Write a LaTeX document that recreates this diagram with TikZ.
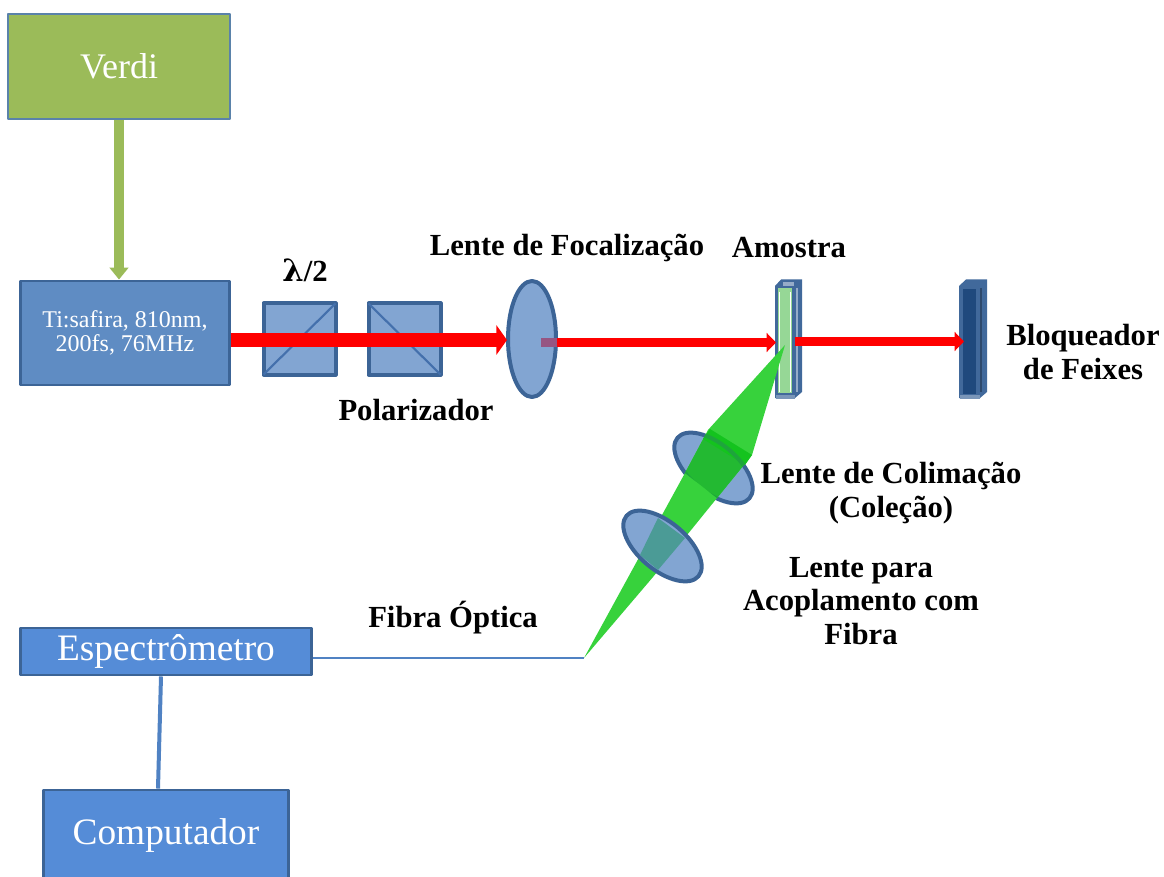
\documentclass[tikz,border=0pt]{standalone}
\usepackage{fontspec}
\setmainfont{Liberation Serif}
\newfontfamily\symfont{DejaVu Serif}
\usetikzlibrary{arrows.meta,calc}
\definecolor{lensfill}{RGB}{130,165,210}
\definecolor{lensedge}{RGB}{60,100,150}
\definecolor{boxblue}{RGB}{85,140,215}
\definecolor{tifill}{RGB}{95,140,195}
\definecolor{verdi}{RGB}{155,187,89}
\definecolor{verdiedge}{RGB}{90,130,170}
\definecolor{beamgreen}{RGB}{55,210,60}
\definecolor{dkgreen}{RGB}{35,185,50}
\definecolor{bandgreen}{RGB}{20,195,30}
\definecolor{rimgreen}{RGB}{30,165,60}
\definecolor{tealmix}{RGB}{75,155,150}
\definecolor{purplemix}{RGB}{150,85,130}
\definecolor{samplegreen}{RGB}{150,215,150}
\definecolor{dkblue}{RGB}{31,73,125}
\definecolor{midblue}{RGB}{65,105,155}
\definecolor{linkblue}{RGB}{80,130,195}
\tikzset{
  lbl/.style={font=\bfseries\fontsize{23}{25}\selectfont,text=black,align=center,inner sep=0pt},
  whitelbl/.style={text=white,align=center,inner sep=0pt},
  cubebox/.style={draw=lensedge,line width=3pt,fill=lensfill,minimum width=54pt,minimum height=53.25pt,inner sep=0pt},
  smallbeam/.style={red,line width=7pt,-{Triangle[length=7pt,width=14pt]}},
  lensrot/.style={rotate around={-40:#1}},
}
\begin{document}
\begin{tikzpicture}[x=0.75pt,y=-0.75pt,line join=round]
\useasboundingbox (0,0) rectangle (1164,877);
% boxes
\node[draw=verdiedge,line width=0.8pt,fill=verdi,minimum width=166.5pt,minimum height=78.75pt,inner sep=0pt,whitelbl,font=\fontsize{27}{30}\selectfont] (verdi) at (119,66.5) {Verdi};
\node[draw=lensedge,line width=2.2pt,fill=tifill,minimum width=156.75pt,minimum height=78pt,inner sep=0pt,whitelbl,font=\fontsize{18}{18.5}\selectfont] (ti) at (125,333) {Ti:safira, 810nm,\\200fs, 76MHz};
\draw[verdi,line width=7pt,-{Triangle[length=9pt,width=14pt]}] (verdi.south) -- (verdi.south |- ti.north);
\node[draw=lensedge,line width=2.2pt,fill=boxblue,minimum width=218.25pt,minimum height=35.25pt,inner sep=0pt,whitelbl,font=\fontsize{28}{30}\selectfont] (esp) at (166,651.5) {Espectrômetro};
\node[draw=lensedge,line width=2.2pt,fill=boxblue,minimum width=183.75pt,minimum height=69pt,inner sep=0pt,whitelbl,font=\fontsize{28}{30}\selectfont] (comp) at (166,836) {Computador};
\draw[linkblue,line width=3pt] ($(esp.south)+(-5,0)$) -- ($(comp.north)+(-8,0)$);
% cubes
\node[cubebox] (hwp) at (299.5,339) {};
\node[cubebox] (pol) at (404.5,339) {};
\draw[boxblue!80!black,line width=1.6pt] ($(hwp.south west)+(2,-2)$) -- ($(hwp.north east)+(-2,2)$);
\draw[boxblue!80!black,line width=1.6pt] ($(pol.north west)+(2,2)$) -- ($(pol.south east)+(-2,-2)$);
% focusing lens
\draw[lensedge,line width=3pt,fill=lensfill] (532,339) ellipse (24 and 58);
\coordinate (lensf) at (507,340);
\coordinate (tiout) at (ti.east |- lensf);
\draw[red,line width=11pt,-{Triangle[length=8pt,width=22pt]}] (tiout) -- (lensf);
\fill[purplemix] (541,338) rectangle (557,347);
% sample
\fill[midblue] (775,286) -- (781,279.5) -- (802,279.5) -- (802,392) -- (795,398) -- (775,398) -- cycle;
\fill[midblue!70!white] (776,395) rectangle (795,399);
\fill[midblue!55!white] (783,282) rectangle (794,286);
\draw[midblue!55!white,line width=1pt] (797,288) -- (797,392);
\node[fill=samplegreen,draw=none,minimum width=10.5pt,minimum height=78.75pt,inner sep=0pt] (sample) at (785,340.5) {};
\fill[white] (789.5,292) rectangle (791,392);
\fill[white] (779,292) rectangle (780,392);
% blocker
\fill[midblue] (959,286) -- (966,279.5) -- (987,279.5) -- (987,392) -- (980,398) -- (959,398) -- cycle;
\fill[dkblue] (963,289) rectangle (976,394);
\fill[midblue!70!white] (960,395) rectangle (980,399);
\draw[midblue!70!black,line width=1pt] (981,288) -- (981,392);
\node[inner sep=0pt,minimum width=1pt] (block) at (964,341.5) {};
% red beams 2,3
\coordinate (focout) at (557,342.5);
\coordinate (samin) at (776,342.5);
\coordinate (samout) at (795,341.5);
\draw[smallbeam] (focout) -- (samin);
\draw[smallbeam] (samout) -- (block.center);
% lens 1 below beam
\draw[lensedge,line width=3pt,fill=lensfill,lensrot={(713.5,468)}] (713.5,468) ellipse (47 and 24);
% green beam
\coordinate (apex) at (785,345);
\coordinate (fib) at (584,658);
\fill[beamgreen] (apex) -- (752,455) -- (717,498) -- (653,577) -- (fib) -- (642,552) -- (662,515) -- (685,473) -- (708,430) -- cycle;
\begin{scope}
  \clip[lensrot={(713.5,468)}] (713.5,468) ellipse (47 and 24);
  \fill[dkgreen] (708,430) -- (752,455) -- (717,498) -- (685,473) -- cycle;
\end{scope}
\fill[bandgreen] (710,429) -- (752,455) -- (745,465) -- (703,439) -- cycle;
\begin{scope}
  \clip (708,430) -- (752,455) -- (717,498) -- (685,473) -- cycle;
  \draw[rimgreen,line width=3pt,lensrot={(713.5,468)}] (713.5,468) ellipse (47 and 24);
\end{scope}
% lens 2 over beam
\draw[lensedge,line width=3pt,fill=lensfill,lensrot={(662.5,546)}] (662.5,546) ellipse (47 and 24);
\begin{scope}
  \clip[lensrot={(662.5,546)}] (662.5,546) ellipse (45.5 and 22.5);
  \fill[tealmix] (658,518) -- (685,538) -- (658,570) -- (640,555) -- cycle;
\end{scope}
% fibre
\coordinate (fibend) at (584,658);
\draw[linkblue,line width=2.2pt] (esp.east |- fibend) -- (fibend);
% labels
\node[lbl] (l2) at (305,270) {{\symfont λ}/2};
\node[lbl] (lpol) at (416,410) {Polarizador};
\node[lbl] (lfoc) at (567,248) {Lente de Focalização};
\node[lbl] (lam) at (789,248) {Amostra};
\node[lbl] (lblo) at (1083,352) {Bloqueador\\de Feixes};
\node[lbl] (lcol) at (891,493) {Lente de Colimação\\(Coleção)};
\node[lbl] (lacp) at (861,601) {Lente para\\Acoplamento com\\Fibra};
\node[lbl] (lfib) at (453,618) {Fibra Óptica};
\end{tikzpicture}
\end{document}
